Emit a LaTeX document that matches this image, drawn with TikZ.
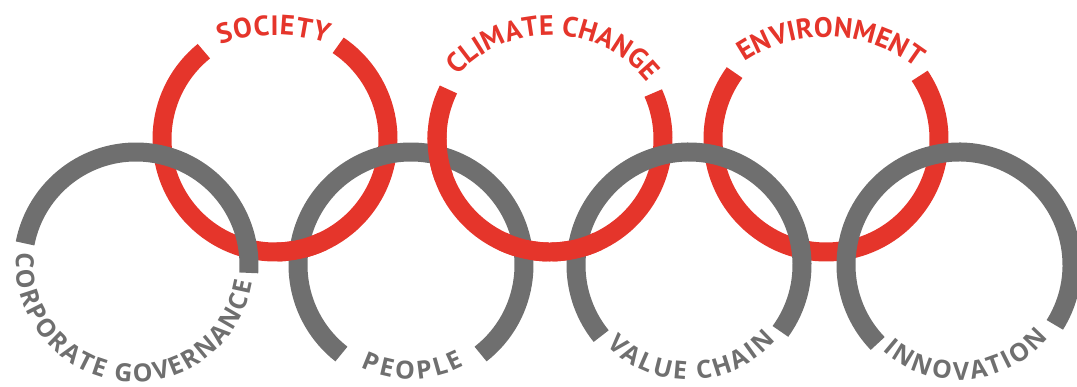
\documentclass[tikz,border=0pt]{standalone}
\usepackage{fontspec}
\setmainfont{Open Sans}
\newfontfamily\redfont{PT Sans}
\usetikzlibrary{decorations.text}
\definecolor{cred}{HTML}{E5352B}
\definecolor{cgray}{HTML}{6F6F6F}
\tikzset{
  redring/.style={draw=cred, line width=19pt},
  grayring/.style={draw=cgray, line width=19pt},
  arclabel/.style={decorate, decoration={text along path, text align={fit to path}, text={#1}}},
}
\newcommand{\graylab}[1]{|\bfseries\fontsize{25pt}{25pt}\selectfont\color{cgray}|#1}
\newcommand{\redlab}[1]{|\redfont\bfseries\fontsize{28pt}{28pt}\selectfont\color{cred}|#1}
\begin{document}
\begin{tikzpicture}[x=1pt,y=1pt]
\useasboundingbox (0,0) rectangle (1077,387);
% ring centres
\coordinate (g1) at (136,122);
\coordinate (g2) at (411,122);
\coordinate (g3) at (689,122);
\coordinate (g4) at (959,122);
\coordinate (r1) at (275,248);
\coordinate (r2) at (550,248);
\coordinate (r3) at (826,248);
% label centres
\coordinate (t1) at (275,192);
\coordinate (t2) at (550,228);
\coordinate (t3) at (826,204);
\coordinate (u1) at (135,124);
% red rings (below by default)
\path[redring] (r1) ++(129:113pt) arc[start angle=129, end angle=416, radius=113pt];
\path[redring] (r2) ++(154:113pt) arc[start angle=154, end angle=384, radius=113pt];
\path[redring] (r3) ++(144:113pt) arc[start angle=144, end angle=394, radius=113pt];
% gray rings
\path[grayring] (g1) ++(-4:113pt) arc[start angle=-4, end angle=169, radius=113pt];
\path[grayring] (g2) ++(-52:113pt) arc[start angle=-52, end angle=232, radius=113pt];
\path[grayring] (g3) ++(-36:113pt) arc[start angle=-36, end angle=219, radius=113pt];
\path[grayring] (g4) ++(-32:113pt) arc[start angle=-32, end angle=224, radius=113pt];
% red segments lying over the gray rings
\path[redring] (r1) ++(271:113pt) arc[start angle=271, end angle=295, radius=113pt];
\path[redring] (r2) ++(176:113pt) arc[start angle=176, end angle=200, radius=113pt];
\path[redring] (r2) ++(245:113pt) arc[start angle=245, end angle=269, radius=113pt];
\path[redring] (r2) ++(271:113pt) arc[start angle=271, end angle=295, radius=113pt];
% labels of the red rings
\path[arclabel={\redlab{SOCIETY}}]
  (t1) ++(110:160pt) arc[start angle=110, end angle=71, radius=160pt];
\path[arclabel={\redlab{CLIMATE CHANGE}}]
  (t2) ++(138:124pt) arc[start angle=138, end angle=38.5, radius=124pt];
\path[arclabel={\redlab{ENVIRONMENT}}]
  (t3) ++(124:146pt) arc[start angle=124, end angle=52, radius=146pt];
% labels of the gray rings
\path[arclabel={\graylab{CORPORATE GOVERNANCE}}]
  (u1) ++(175:119pt) arc[start angle=175, end angle=351, radius=119pt];
\path[arclabel={\graylab{PEOPLE}}]
  (g2) ++(244:114pt) arc[start angle=244, end angle=298, radius=114pt];
\path[arclabel={\graylab{VALUE CHAIN}}]
  (g3) ++(224:115pt) arc[start angle=224, end angle=319, radius=115pt];
\path[arclabel={\graylab{INNOVATION}}]
  (g4) ++(228:115pt) arc[start angle=228, end angle=321, radius=115pt];
\end{tikzpicture}
\end{document}
